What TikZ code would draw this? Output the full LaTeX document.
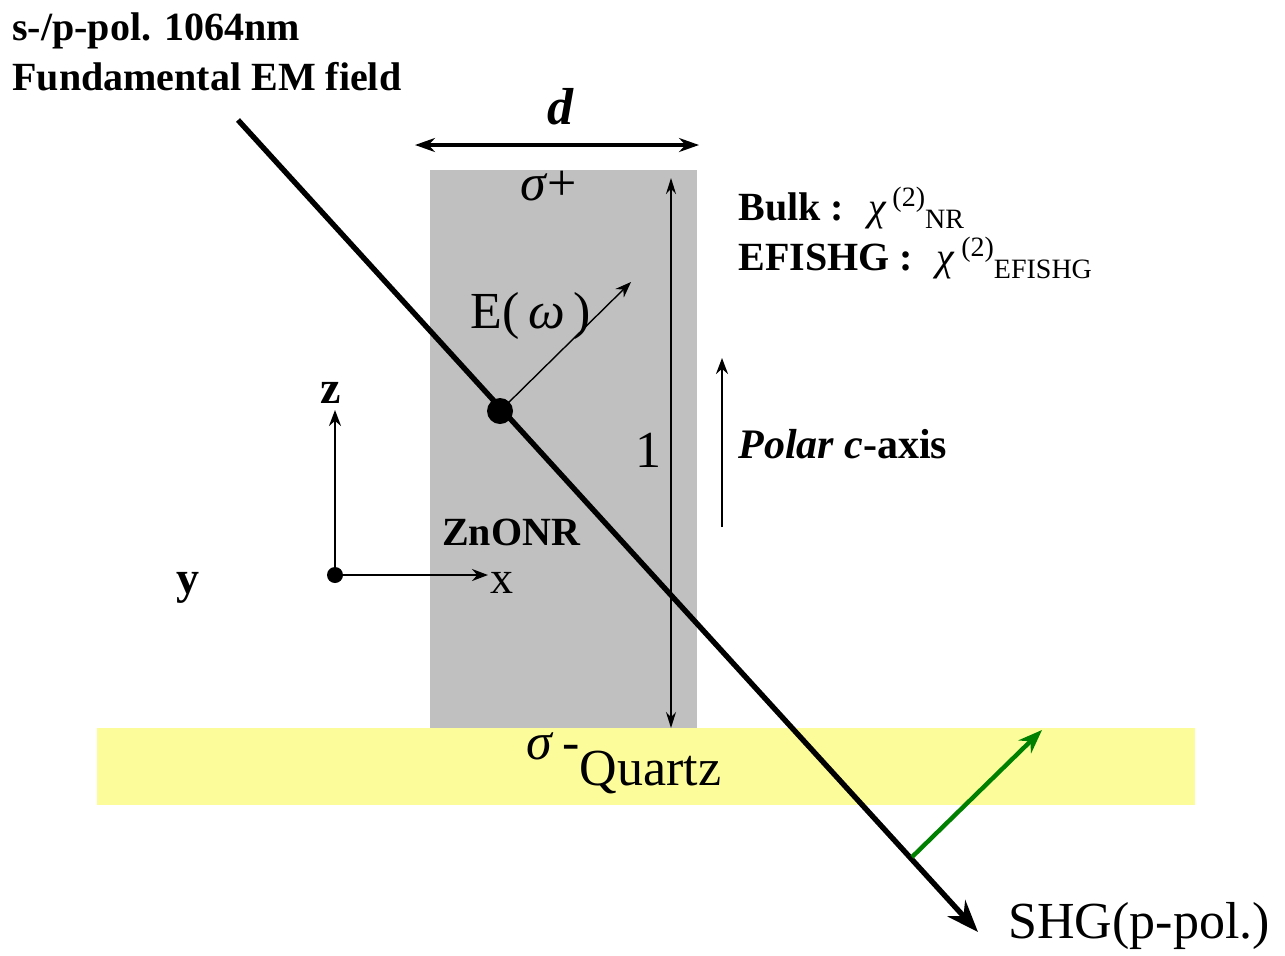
\documentclass[tikz,border=0pt]{standalone}
\usepackage{fontspec}
\setmainfont{Liberation Serif}
\usetikzlibrary{arrows.meta}
\definecolor{rodgray}{RGB}{192,192,192}
\definecolor{quartzyel}{RGB}{253,252,154}
\definecolor{shggreen}{RGB}{0,128,0}
\begin{document}
\begin{tikzpicture}[x=0.5pt,y=-0.5pt,
  txt/.style={inner sep=0pt, anchor=base west},
  ctxt/.style={inner sep=0pt, anchor=base},
  big/.style={font=\fontsize{26}{30}\selectfont},
  mid/.style={font=\fontsize{20}{24}\selectfont},
  bmid/.style={font=\fontsize{20}{24}\selectfont\bfseries},
  axl/.style={font=\fontsize{23}{27}\selectfont},
  thin/.style={line width=0.7pt},
  axis/.style={line width=1.1pt, -{Stealth[length=8pt,width=6pt]}}]
\useasboundingbox (0,0) rectangle (1285,955);
% substrate and rod
\fill[quartzyel] (97,728) rectangle (1195,805);
\fill[rodgray] (430,170) rectangle (697,728);
% title
\node[txt,bmid] (t1) at (12,40) {s-/p-pol. 1064nm};
\node[txt,bmid] (t2) at (12,90) {Fundamental EM field};
% d arrow
\coordinate (dl) at (415,145);
\coordinate (dr) at (699,145);
\draw[line width=1.6pt, {Stealth[length=10pt,width=7pt]}-{Stealth[length=10pt,width=7pt]}] (dl) -- (dr);
\node[ctxt,font=\fontsize{26}{30}\selectfont\bfseries\itshape] (d) at (560,124) {d};
% sigma+
\node[txt,big] (sp) at (520,200) {\textit{σ}+};
% length arrow
\coordinate (lt) at (671,178);
\coordinate (lb) at (671,728);
\draw[thin, {Stealth[length=8pt,width=5pt]}-{Stealth[length=8pt,width=5pt]}] (lt) -- (lb);
\node[ctxt,big] (l) at (648,467) {1};
% Bulk / EFISHG
\node[txt,mid] (bulk) at (738,220) {\textbf{Bulk :}\hspace{12pt}\textit{χ}\hspace{3pt}\raisebox{7pt}{\fontsize{14}{14}\selectfont (2)}\raisebox{-4pt}{\fontsize{14}{14}\selectfont NR}};
\node[txt,mid] (efi) at (738,270) {\textbf{EFISHG :}\hspace{12pt}\textit{χ}\hspace{3pt}\raisebox{7pt}{\fontsize{14}{14}\selectfont (2)}\raisebox{-4pt}{\fontsize{14}{14}\selectfont EFISHG}};
% polar c-axis
\coordinate (pb) at (722,527);
\coordinate (pt) at (722,358);
\draw[axis] (pb) -- (pt);
\node[txt,font=\fontsize{21}{25}\selectfont\bfseries] (polar) at (738,458) {\textit{Polar c}-axis};
% beam
\coordinate (bs) at (238,120);
\coordinate (be) at (978,932);
\coordinate (dot) at (500,411);
\coordinate (gs) at (912,857);
\coordinate (ge) at (1042,730);
\draw[line width=2.7pt, -{Stealth[length=16pt,width=12pt]}] (bs) -- (be);
\fill (dot) circle[radius=6.5pt];
% E(omega)
\coordinate (ee) at (631,282);
\draw[thin, -{Stealth[length=8pt,width=6pt]}] (dot) -- (ee);
\node[txt,big] (ew) at (470,328) {E(\,\textit{ω}\,)};
% ZnONR
\node[ctxt,bmid] (zn) at (511,545) {ZnONR};
% axes
\coordinate (o) at (335,575);
\coordinate (zt) at (335,410);
\coordinate (xt) at (488,575);
\draw[axis] (o) -- (zt);
\draw[axis] (o) -- (xt);
\fill (o) circle[radius=4pt];
\node[ctxt,axl,font=\fontsize{23}{27}\selectfont\bfseries] (zl) at (331,403) {z};
\node[ctxt,axl] (xl) at (502,593) {x};
\node[ctxt,axl,font=\fontsize{23}{27}\selectfont\bfseries] (yl) at (188,593) {y};
% sigma- Quartz
\node[txt,big] (q) at (526,785) {\raisebox{13pt}{\textit{σ}\,-}Quartz};
% green arrow
\draw[shggreen, line width=2.2pt, -{Stealth[length=12pt,width=9pt]}] (gs) -- (ge);
% SHG
\node[txt,big] (shg) at (1008,938) {SHG(p-pol.)};
\end{tikzpicture}
\end{document}
